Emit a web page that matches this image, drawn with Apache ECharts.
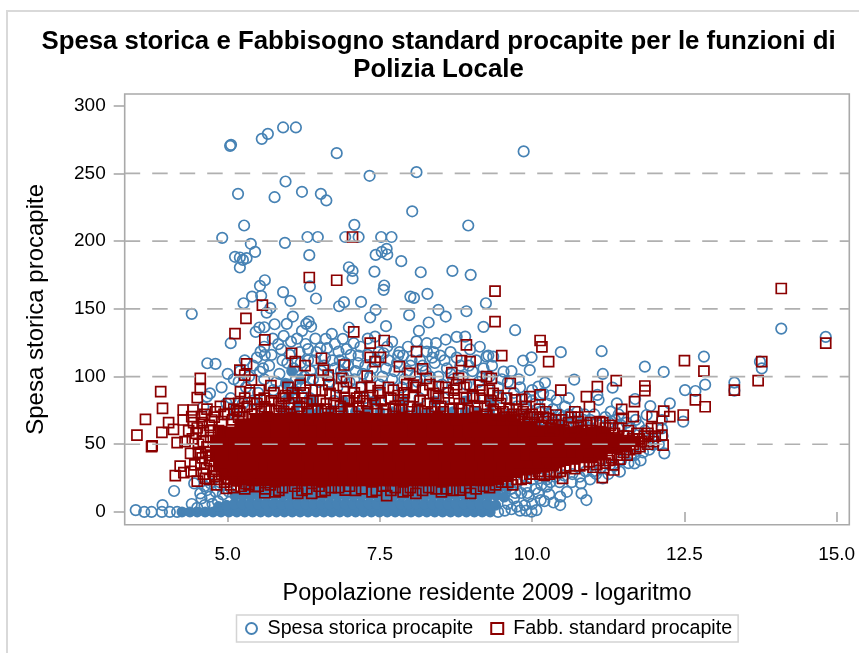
<!DOCTYPE html>
<html lang="it">
<head>
<meta charset="utf-8">
<title>Polizia Locale</title>
<script src="https://cdn.jsdelivr.net/npm/echarts@6/dist/echarts.min.js"></script>
<style>
html, body { margin: 0; padding: 0; background: #fff; }
#main, #griglia { width: 859px; height: 653px; position: absolute; left: 0; top: 0; }
#main { z-index: 1; }
#griglia { z-index: 10; pointer-events: none; }
</style>
</head>
<body>
<div id="main"></div>
<div id="griglia"></div>
<script>
const xTicks = [5, 7.5, 10, 12.5, 15];
const yTicks = [0, 50, 100, 150, 200, 250, 300];
const gridValues = [50, 100, 150, 200, 250];
const xMin = 3.309;
const xMax = 15.207;
const yMin = -9.4;
const yMax = 308.6;

// punti leggibili uno per uno: [logaritmo popolazione, spesa procapite]
const spesaIsolati = [[5.04,270.3],[5.055,271.1],[5.56,275.5],[5.66,279.2],[5.91,283.9],[6.12,283.9],[6.79,264.9],[7.33,248.2],[8.10,250.9],[9.86,266.2],[5.95,244],[5.17,234.9],[5.77,232.4],[6.22,236.4],[6.53,234.9],[6.62,230],[8.03,222],[8.95,211.5],[5.27,211.5],[7.08,212],[4.91,202.4],[6.31,203],[6.48,203],[6.93,203],[7.15,203],[7.52,203],[7.69,203],[5.38,198],[5.94,198.7],[5.45,192],[5.12,188.4],[5.20,187.9],[5.31,187.4],[5.25,186.1],[5.20,180.5],[6.34,189.6],[7.43,189.8],[7.53,192],[7.61,194.3],[7.62,190.1],[7.85,185.2],[6.99,180.7],[7.05,178],[7.05,172.4],[7.41,177.5],[8.17,177],[8.69,178],[8.99,175.1],[5.61,171.1],[5.53,167],[6.35,166.5],[7.57,167.2],[7.56,164],[5.91,162.3],[6.03,155.9],[5.40,159],[5.55,159.6],[5.26,154.1],[6.45,157.6],[8.0,159],[8.06,158.1],[8.28,161],[9.24,154.1],[6.83,151.9],[6.91,154.9],[7.19,155.1],[4.41,146.3],[5.70,150.5],[5.64,147.2],[7.43,149.2],[7.34,143.6],[7.98,145.3],[8.46,149.2],[8.58,144.3],[8.92,148.2],[6.07,144.3],[5.97,138.9],[5.77,138.6],[6.33,140.6],[6.29,138.9],[6.37,136.9],[6.22,133.7],[5.46,133],[5.52,136.2],[5.60,136.4],[6.99,136.2],[7.60,137.2],[8.14,133.7],[8.30,139.9],[9.20,136.7],[5.05,124.6],[5.83,123.9],[6.04,125.8],[6.71,131.5],[6.61,127.8],[6.89,127.8],[7.42,129.5],[8.27,124.6],[8.42,124.6],[8.58,127.3],[8.76,129.3],[8.90,129.5],[7.70,125.6],[5.54,118.4],[6.32,120.2],[6.52,120.9],[6.63,120.9],[6.82,118.4],[6.95,120.2],[7.07,124.6],[7.15,115.5],[7.56,117.2],[7.80,115.5],[7.88,115.5],[8.27,118.4],[8.49,115.5],[9.25,114.7],[4.665,109.8],[4.80,109.3],[9.72,134.2],[10.47,118],[11.14,118.7],[12.82,114.7],[14.09,135.4],[14.82,129.3],[9.28,115.5],[9.85,111.8],[9.99,114.2],[13.74,111],[11.85,107.3],[12.16,103.4],[12.51,90],[12.68,89.3],[12.84,94],[13.32,95.5],[13.32,89.6],[13.77,106],[11.16,101.9],[10.69,97.7],[11.32,91.8],[10.21,95.5],[10.1,92.5],[9.96,104.8],[9.53,103.6],[9.36,114.7],[9.2,106],[11.69,83.4],[11.94,78.2],[12.26,80.2],[11.39,80.2],[11.29,74.1],[11.07,86.4],[11.09,82.7],[10.40,82.7],[10.54,77.8],[10.18,87.6],[11.88,71.6],[12.13,67.9],[12.48,66.7],[12.13,61.7],[11.99,49.4],[12.17,43.3],[11.68,42],[11.68,35.9],[11.44,29.7],[11.16,24.8],[10.89,8.8],[10.81,13.7],[10.57,14.9],[10.46,11.3],[10.46,5.1],[10.14,8.8],[10.07,1.4],[9.99,0.2],[10.24,18.7],[10.8,21.1],[9.94,11.3],[9.75,3.9],[3.49,1.4],[3.63,0],[3.75,0],[3.92,0],[3.93,5.1],[4.05,0],[4.17,0],[4.12,15.5],[4.45,21.1],[4.55,13.7],[4.66,16.2],[4.41,5.9],[4.57,10],[4.71,11.3],[4.98,80.2],[5.18,96.2],[5.53,103.6],[5.61,115.9],[4.71,87.6],[4.60,77.7],[4.66,85.1]];

// nuvola sopra e a destra del nucleo, valori stimati
const spesaNuvola = [[5.3,92],[5.42,108],[5.5,88],[5.6,98],[5.68,108],[5.75,90],[5.85,102],[5.9,112],[6.0,94],[6.08,106],[6.12,98],[6.2,110],[6.28,92],[6.36,104],[6.42,112],[6.5,96],[6.58,108],[6.66,100],[6.72,112],[6.8,92],[6.86,104],[6.93,110],[7.0,96],[7.1,104],[7.18,92],[7.26,108],[7.34,100],[7.44,112],[7.5,94],[7.6,106],[7.7,98],[7.78,110],[7.86,92],[7.95,104],[8.02,112],[8.12,96],[8.2,108],[8.32,100],[8.4,110],[8.52,94],[8.6,106],[8.7,98],[8.82,108],[8.92,94],[9.02,104],[9.12,96],[9.3,100],[9.44,92],[9.6,96],[9.7,88],[9.8,92],[9.9,84],[10.0,90],[10.05,80],[5.05,84],[5.12,72],[5.25,80],[5.4,82],[5.55,78],[5.95,82],[6.35,84],[6.75,82],[7.25,84],[7.65,84],[8.15,84],[8.55,84],[9.05,84],[9.5,84],[9.75,78],[9.9,76],[10.12,74],[10.25,80],[10.34,76],[10.45,72],[10.6,72],[10.66,66],[10.74,74],[10.86,72],[10.95,68],[11.02,72],[11.2,70],[11.36,68],[11.42,72],[11.55,66],[11.62,62],[11.75,64],[11.85,60],[11.92,56],[12.0,54],[11.78,38],[11.58,36],[11.35,34],[11.25,28],[11.05,28],[10.95,24],[10.65,22],[10.45,22],[10.3,22],[10.15,20],[10.05,17],[9.9,19],[9.82,14],[9.7,10],[9.65,17],[9.88,5],[10.0,6],[9.6,6],[9.55,1],[9.44,0],[9.8,1],[10.28,13],[10.35,7],[4.5,3],[4.62,5],[4.75,6],[4.84,8],[4.92,13],[5.02,15],[4.8,15],[4.88,19],[4.62,19],[4.72,21]];

const spesaNuvolaAlta = [[5.35,100],[5.48,114],[5.58,106],[5.72,116],[5.8,96],[5.88,120],[5.98,110],[6.02,116],[6.14,104],[6.18,118],[6.26,100],[6.32,112],[6.4,98],[6.46,118],[6.54,104],[6.6,114],[6.68,96],[6.76,106],[6.84,112],[6.9,100],[6.98,108],[7.02,116],[7.08,98],[7.14,110],[7.22,102],[7.3,116],[7.38,106],[7.48,118],[7.54,100],[7.64,112],[7.74,104],[7.82,118],[7.9,98],[8.0,108],[8.08,100],[8.16,112],[8.25,104],[8.36,114],[8.46,100],[8.56,112],[8.66,102],[8.76,114],[8.86,100],[8.96,108],[9.08,112],[9.18,100],[9.34,108],[9.5,98],[9.66,104],[9.78,98],[5.2,104],[5.28,112],[5.1,98],[4.9,92],[5.0,102],[5.6,122],[5.74,128],[5.92,130],[6.14,128],[6.28,124],[6.44,128],[6.76,124],[7.18,122],[7.3,128],[7.62,122],[7.96,122],[8.1,126],[8.38,118],[8.66,118],[8.98,120],[9.14,122],
[9.82,68],[9.92,72],[10.02,66],[10.1,70],[10.2,68],[10.28,72],[10.36,66],[10.5,70],[10.56,64],[10.72,66],[10.84,68],[10.92,62],[11.1,64],[11.26,66],[11.46,64],[11.7,68],[10.0,82],[10.3,86],[10.6,84],[9.62,72],[9.74,22],[9.86,27],[10.0,24],[10.12,25],[10.24,24],[10.38,26],[10.52,27],[10.66,28],[10.78,26],[10.88,30],[11.0,30],[11.12,32],[11.28,35],[11.46,38],[11.62,42],[11.82,44],[11.92,46],[12.08,50],[12.14,56],[9.72,14],[9.92,14],[10.1,14],[10.2,8],[9.66,2],[9.9,1]];

// zona satura in basso: i singoli cerchi non si distinguono, stima di copertura
const spesaNucleo = [[4.25,0],[4.38,0],[4.5,0],[4.63,0],[4.76,0],[4.89,0],[5.02,0],[5.15,0],[5.28,0],[5.41,0],[5.54,0],[5.67,0],[5.8,0],[5.93,0],[6.06,0],[6.19,0],[6.32,0],[6.45,0],[6.58,0],[6.71,0],[6.84,0],[6.97,0],[7.1,0],[7.23,0],[7.36,0],[7.49,0],[7.62,0],[7.75,0],[7.88,0],[8.01,0],[8.14,0],[8.27,0],[8.4,0],[8.53,0],[8.66,0],[8.79,0],[8.92,0],[9.05,0],[9.18,0],[9.31,0],
[4.85,4],[4.98,5],[5.11,6],[5.24,6],[5.37,6],[5.5,6],[5.63,6],[5.76,6],[5.89,6],[6.02,6],[6.15,6],[6.28,6],[6.41,6],[6.54,6],[6.67,6],[6.8,6],[6.93,6],[7.06,6],[7.19,6],[7.32,6],[7.45,6],[7.58,6],[7.71,6],[7.84,6],[7.97,6],[8.1,6],[8.23,6],[8.36,6],[8.49,6],[8.62,6],[8.75,6],[8.88,6],[9.01,6],[9.14,6],[9.27,6],[9.4,5],
[5.12,12],[5.25,12],[5.38,12],[5.51,12],[5.64,12],[5.77,12],[5.9,12],[6.03,12],[6.16,12],[6.29,12],[6.42,12],[6.55,12],[6.68,12],[6.81,12],[6.94,12],[7.07,12],[7.2,12],[7.33,12],[7.46,12],[7.59,12],[7.72,12],[7.85,12],[7.98,12],[8.11,12],[8.24,12],[8.37,12],[8.5,12],[8.63,12],[8.76,12],[8.89,12],[9.02,12],[9.15,12],[9.28,12],[9.41,12],[9.54,11],
[5.3,18],[5.43,18],[5.56,18],[5.69,18],[5.82,18],[5.95,18],[6.08,18],[6.21,18],[6.34,18],[6.47,18],[6.6,18],[6.73,18],[6.86,18],[6.99,18],[7.12,18],[7.25,18],[7.38,18],[7.51,18],[7.64,18],[7.77,18],[7.9,18],[8.03,18],[8.16,18],[8.29,18],[8.42,18],[8.55,18],[8.68,18],[8.81,18],[8.94,18],[9.07,18],[9.2,18],[9.33,18],[9.46,18],[9.59,18],
[5.95,95],[6.05,104],[6.1,90],[6.2,98],[6.0,85],[6.15,80],[5.9,74],[6.1,74],[6.3,74],[6.5,74],[6.7,74],[6.9,74],[7.1,74],[7.3,74],[7.5,74],[7.7,74],[7.9,74],[8.1,74],[8.3,74],[8.5,74],[8.7,74],[8.9,74],[9.1,74],[9.3,74],[9.5,70],[9.7,66],[9.9,64],[10.1,62],[10.3,64],[10.5,62],[10.3,52],[10.6,56],[10.8,56],[11.0,54],[6.4,82],[6.9,82],[7.4,82],[7.9,82],[8.4,82],[8.9,82],[9.3,82]];

const fabbIsolati = [[7.05,203],[6.34,173.1],[6.79,171.1],[5.57,152.7],[5.30,143],[5.12,131.7],[5.61,127.1],[7.07,133],[7.34,124.6],[7.57,126.6],[8.10,118.4],[8.92,123.4],[6.05,117.2],[6.54,113.5],[9.39,163],[9.39,140.6],[10.13,126.6],[10.16,121.9],[9.50,115.5],[10.27,111],[12.5,111.8],[13.77,111],[14.09,165],[14.82,124.6],[12.82,104],[13.71,97],[13.32,90],[12.68,82.7],[12.84,77.7],[11.85,93],[11.85,89.6],[11.38,97],[11.07,92.5],[10.89,85.1],[10.47,90],[10.94,77.7],[10.70,74],[11.68,81.4],[11.47,75.8],[11.66,70.4],[11.97,70.4],[12.16,74.5],[12.26,70.4],[12.48,71.6],[11.96,61.7],[12.13,56.8],[11.99,51.9],[12.15,49.4],[11.77,48.2],[11.15,25.3],[10.5,24.8],[11.33,34.7],[10.13,86.4],[9.96,85.1],[9.83,83.2],[9.72,82.7],[9.64,95],[9.33,98.7],[9.36,87.6],[10.39,71.6],[10.27,69.1],[11.47,69.1],[11.11,66.7],[10.76,66.7],[9.72,67.9],[9.42,71.6],[9.88,69.1],[3.51,56.8],[3.65,68.4],[3.90,88.8],[3.93,76.5],[3.75,48.2],[3.76,48.9],[4.03,65.9],[3.92,58.8],[4.11,61],[4.17,51.2],[4.27,75.3],[4.43,75.3],[4.27,67.9],[4.41,70.4],[4.55,98.7],[4.55,90.5],[4.50,84.4],[4.57,70.4],[4.74,67.9],[4.90,66.7],[4.22,33.9],[4.14,26.8],[4.28,29],[4.46,34.7],[4.50,22.8],[4.63,24.8],[4.39,43.3],[4.55,43.3],[4.79,26],[4.98,17.4],[5.20,104.8],[5.31,109.3],[5.28,101.1],[5.39,97.4],[5.71,93.3],[5.21,88.8],[5.18,80.2],[5.20,74],[5.99,92],[6.11,111],[6.27,108],[6.57,104.8],[6.65,101.1],[6.91,108.5],[6.87,98.7],[6.95,96.2],[7.29,100.4],[7.34,114.2],[7.42,111],[7.51,114.2],[7.82,107.3],[7.47,89.6],[7.72,90],[7.99,102.4],[8.20,105.6],[8.26,98.7],[8.84,111.7],[8.98,111],[8.68,102.9],[8.79,98.7],[9.14,93.7],[8.05,93.7],[8.46,92.5],[6.19,93.7],[6.35,97.4],[5.91,83.9],[6.68,87.6],[7.17,85.1],[8.71,90],[9.03,85.1],[9.25,99.9],[8.38,87.6],[7.88,82.7],[5.53,82.7],[5.61,77.7],[5.61,14.2],[5.78,14.9],[6.15,13.7],[6.38,13.7],[6.54,14.9],[6.93,16.2],[7.37,14.9],[7.61,12],[7.88,14.9],[8.09,13.7],[8.51,14.9],[8.81,16.2],[8.99,13.7],[5.45,18.7]];

// bordo irregolare della massa rossa, valori stimati
const fabbBordo = [[4.62,72],[4.7,64],[4.78,70],[4.85,60],[4.72,55],[4.6,60],[4.5,62],[4.66,48],[4.6,52],[4.52,50],[4.58,40],[4.7,38],[4.65,32],[4.76,30],[4.85,24],[4.9,28],[4.95,22],[5.05,20],[5.15,23],[5.22,19],[5.3,21],[5.35,20],[5.5,19],[5.7,20],[5.9,18],[6.1,19],[6.3,17],[6.5,19],[6.7,18],[7.0,19],[7.2,17],[7.55,19],[7.75,18],[8.0,18],[8.3,18],[8.6,17],[8.9,18],[9.2,19],[9.4,20],[5.0,72],[5.08,68],[5.15,75],[5.25,70],[5.32,78],[5.4,72],[5.48,80],[5.55,74],[5.65,70],[5.72,82],[5.8,75],[5.88,78],[5.95,86],[6.02,72],[6.1,84],[6.18,78],[6.25,88],[6.32,74],[6.4,82],[6.48,76],[6.55,90],[6.62,80],[6.7,74],[6.78,86],[6.85,78],[6.92,84],[7.0,76],[7.08,88],[7.15,78],[7.22,82],[7.3,74],[7.38,86],[7.45,76],[7.52,82],[7.6,72],[7.68,84],[7.75,78],[7.82,75],[7.9,88],[7.98,78],[8.05,85],[8.12,76],[8.2,90],[8.28,80],[8.35,74],[8.42,86],[8.5,78],[8.58,92],[8.65,76],[8.72,84],[8.8,80],[8.88,92],[8.95,75],[9.02,86],[9.1,78],[9.18,90],[9.25,72],[9.32,82],[9.4,74],[9.48,80],[9.55,70],[9.62,76],[9.7,72],[9.78,68],[9.85,74],[9.92,66],[10,72],[10.08,70],[10.15,64],[10.22,74],[10.3,62],[10.38,68],[10.45,64],[10.52,60],[10.6,66],[10.68,62],[10.75,70],[10.82,60],[10.9,64],[10.98,60],[11.05,66],[11.12,58],[11.2,62],[11.28,64],[11.35,58],[11.42,62],[11.5,56],[11.58,60],[11.65,54],[11.72,58],[11.8,52],[9.6,22],[9.75,24],[9.9,25],[10,28],[10.1,30],[10.2,27],[10.3,30],[10.4,29],[10.55,33],[10.7,32],[10.85,35],[11,33],[11.1,38],[11.2,36],[11.3,40],[11.4,42],[11.5,44],[11.6,46],[11.7,47]];

const fabbBordoAlto = [[4.58,66],[4.66,76],[4.72,60],[4.8,74],[4.88,78],[4.94,72],[5.02,80],[5.1,76],[5.18,70],[5.28,84],[5.36,88],[5.44,76],[5.52,90],[5.6,84],[5.68,76],[5.76,88],[5.84,80],[5.92,74],[6.0,80],[6.06,88],[6.14,74],[6.22,84],[6.3,80],[6.38,76],[6.44,90],[6.52,82],[6.6,76],[6.66,94],[6.74,80],[6.82,74],[6.9,92],[6.98,82],[7.04,74],[7.12,84],[7.2,92],[7.28,80],[7.34,92],[7.42,80],[7.5,88],[7.56,76],[7.64,92],[7.72,76],[7.8,86],[7.86,76],[7.94,94],[8.02,74],[8.08,92],[8.16,82],[8.24,74],[8.32,94],[8.4,78],[8.46,84],[8.54,74],[8.62,88],[8.7,76],[8.76,94],[8.84,76],[8.92,84],[8.98,94],[9.06,74],[9.14,84],[9.22,78],[9.3,90],[9.36,76],[9.44,86],[9.52,74],[9.58,84],[9.66,70],[9.74,76],[9.82,72],[9.9,78],[9.96,70],[10.04,66],[10.12,76],[10.18,70],[10.34,64],[10.48,68],[10.64,70],[10.8,64],[10.96,66],[11.16,66],[11.32,62],[11.56,56],[11.76,54],[11.9,58],[12.06,62],[12.02,56],[11.84,56],[11.9,50],
[4.48,58],[4.44,66],[4.36,60],[4.3,52],[4.42,54],[4.52,44],[4.64,44],[4.72,42],[4.56,36],[4.4,30],[4.6,28],[4.7,24],[4.78,34],[4.82,20],[5.0,24],[5.1,18],[5.28,17],[5.62,17],[5.84,16],[6.22,16],[6.6,16],[6.82,18],[7.1,16],[7.44,16],[7.68,16],[7.96,16],[8.2,16],[8.42,17],[8.7,16],[9.08,17],[9.3,18],[9.5,22],[9.68,20],[9.82,24],[9.96,28],[10.14,28],[10.28,28],[10.46,30],[10.62,34],[10.78,34],[10.94,37],[11.06,35],[11.26,38],[11.34,31],[11.44,39],[11.56,42],[11.66,50]];

// zona satura rossa: quadrati pieni, stima di copertura
const fabbNucleo = [[5.1,24],[5.25,24],[5.4,23],[5.55,23],[5.7,23],[5.85,23],[6.0,23],[6.15,23],[6.3,23],[6.45,23],[6.6,23],[6.75,23],[6.9,23],[7.05,23],[7.2,23],[7.35,23],[7.5,23],[7.65,23],[7.8,23],[7.95,23],[8.1,23],[8.25,23],[8.4,23],[8.55,23],[8.7,23],[8.85,23],[9.0,23],[9.15,23],[9.3,23],[9.45,24],[9.6,26],
[4.95,28],[5.1,29],[5.25,29],[5.4,29],[5.55,29],[5.7,29],[5.85,29],[6.0,29],[6.15,29],[6.3,29],[6.45,29],[6.6,29],[6.75,29],[6.9,29],[7.05,29],[7.2,29],[7.35,29],[7.5,29],[7.65,29],[7.8,29],[7.95,29],[8.1,29],[8.25,29],[8.4,29],[8.55,29],[8.7,29],[8.85,29],[9.0,29],[9.15,29],[9.3,29],[9.45,29],[9.6,29],[9.75,29],[9.9,31],[10.05,32],[10.2,33],[10.35,34],
[4.85,34],[5.0,35],[5.15,35],[5.3,35],[5.45,35],[5.6,35],[5.75,35],[5.9,35],[6.05,35],[6.2,35],[6.35,35],[6.5,35],[6.65,35],[6.8,35],[6.95,35],[7.1,35],[7.25,35],[7.4,35],[7.55,35],[7.7,35],[7.85,35],[8.0,35],[8.15,35],[8.3,35],[8.45,35],[8.6,35],[8.75,35],[8.9,35],[9.05,35],[9.2,35],[9.35,35],[9.5,35],[9.65,35],[9.8,36],[9.95,37],[10.1,38],[10.25,38],[10.4,38],[10.55,38],[10.7,39],[10.85,40],[11.0,40],[11.15,42],
[4.8,41],[4.95,41],[5.1,41],[5.25,41],[5.4,41],[5.55,41],[5.7,41],[5.85,41],[6.0,41],[6.15,41],[6.3,41],[6.45,41],[6.6,41],[6.75,41],[6.9,41],[7.05,41],[7.2,41],[7.35,41],[7.5,41],[7.65,41],[7.8,41],[7.95,41],[8.1,41],[8.25,41],[8.4,41],[8.55,41],[8.7,41],[8.85,41],[9.0,41],[9.15,41],[9.3,41],[9.45,41],[9.6,41],[9.75,41],[9.9,42],[10.05,43],[10.2,44],[10.35,44],[10.5,44],[10.65,44],[10.8,45],[10.95,45],[11.1,45],[11.25,47],[11.4,47],[11.55,48],
[4.8,47],[4.95,47],[5.1,47],[5.25,47],[5.4,47],[5.55,47],[5.7,47],[5.85,47],[6.0,47],[6.15,47],[6.3,47],[6.45,47],[6.6,47],[6.75,47],[6.9,47],[7.05,47],[7.2,47],[7.35,47],[7.5,47],[7.65,47],[7.8,47],[7.95,47],[8.1,47],[8.25,47],[8.4,47],[8.55,47],[8.7,47],[8.85,47],[9.0,47],[9.15,47],[9.3,47],[9.45,47],[9.6,47],[9.75,47],[9.9,48],[10.05,49],[10.2,50],[10.35,50],[10.5,50],[10.65,50],[10.8,50],[10.95,51],[11.1,51],[11.25,52],[11.4,52],[11.55,52],[11.7,52],
[4.8,53],[4.95,53],[5.1,53],[5.25,53],[5.4,53],[5.55,53],[5.7,53],[5.85,53],[6.0,53],[6.15,53],[6.3,53],[6.45,53],[6.6,53],[6.75,53],[6.9,53],[7.05,53],[7.2,53],[7.35,53],[7.5,53],[7.65,53],[7.8,53],[7.95,53],[8.1,53],[8.25,53],[8.4,53],[8.55,53],[8.7,53],[8.85,53],[9.0,53],[9.15,53],[9.3,53],[9.45,53],[9.6,53],[9.75,53],[9.9,54],[10.05,55],[10.2,56],[10.35,56],[10.5,56],[10.65,56],[10.8,56],[10.95,55],[11.1,55],[11.25,55],[11.4,54],
[4.9,59],[5.05,59],[5.2,59],[5.35,59],[5.5,59],[5.65,59],[5.8,59],[5.95,59],[6.1,59],[6.25,59],[6.4,59],[6.55,59],[6.7,59],[6.85,59],[7.0,59],[7.15,59],[7.3,59],[7.45,59],[7.6,59],[7.75,59],[7.9,59],[8.05,59],[8.2,59],[8.35,59],[8.5,59],[8.65,59],[8.8,59],[8.95,59],[9.1,59],[9.25,59],[9.4,59],[9.55,59],[9.7,59],[9.85,59],[10.0,60],[10.15,60],[10.3,60],[10.45,60],[10.6,59],[10.75,59],[10.9,58],[11.05,58],[11.2,58],
[5.2,65],[5.35,65],[5.5,65],[5.65,65],[5.8,65],[5.95,65],[6.1,65],[6.25,65],[6.4,65],[6.55,65],[6.7,65],[6.85,65],[7.0,65],[7.15,65],[7.3,65],[7.45,65],[7.6,65],[7.75,65],[7.9,65],[8.05,65],[8.2,65],[8.35,65],[8.5,65],[8.65,65],[8.8,65],[8.95,65],[9.1,65],[9.25,65],[9.4,65],[9.55,64],[9.7,64],[9.85,63],[10.0,63],
[5.45,69],[5.6,69],[5.75,69],[5.9,69],[6.05,70],[6.2,69],[6.35,68],[6.5,69],[6.65,70],[6.8,69],[6.95,69],[7.1,69],[7.25,70],[7.4,69],[7.55,68],[7.7,69],[7.85,70],[8.0,69],[8.15,69],[8.3,69],[8.45,70],[8.6,69],[8.75,68],[8.9,69],[9.05,70],[9.2,69],[9.35,68],[9.5,68],[9.65,68]];

const blu = '#4682b4';
const rosso = '#8b0000';
const grigio = '#a9a9a9';
const grigioChiaro = '#d9d9d9';
const griglia = { left: 124.7, top: 94, width: 724.6, height: 430.7 };

const chart = echarts.init(document.getElementById('main'), null, { renderer: 'canvas' });

function puntiVuoti(name, symbol, size, color, z, data) {
	return {
		name: name, type: 'scatter', symbol: symbol, symbolSize: size, z: z, data: data,
		itemStyle: { color: 'rgba(255,255,255,0)', borderColor: color, borderWidth: 1.7, opacity: 1 },
		emphasis: { disabled: true }
	};
}
function puntiPieni(symbol, color, z, data) {
	return {
		name: 'nucleo', type: 'scatter', symbol: symbol, symbolSize: 11, z: z, data: data,
		itemStyle: { color: color, opacity: 1 },
		emphasis: { disabled: true }
	};
}

chart.setOption({
	animation: false,
	backgroundColor: '#fff',
	// cornice chiara dell'immagine, solo in alto e a sinistra
	graphic: [
		{ type: 'line', shape: { x1: 7, y1: 11, x2: 859, y2: 11 }, style: { stroke: grigioChiaro, lineWidth: 2 } },
		{ type: 'line', shape: { x1: 7, y1: 10, x2: 7, y2: 653 }, style: { stroke: grigioChiaro, lineWidth: 2 } }
	],
	title: {
		text: 'Spesa storica e Fabbisogno standard procapite per le funzioni di\nPolizia Locale',
		left: 433.5, top: 23, textAlign: 'center',
		textStyle: { fontFamily: 'Liberation Sans', fontSize: 25.8, fontWeight: 'bold', color: '#000', lineHeight: 28 }
	},
	legend: {
		data: ['Spesa storica procapite', 'Fabb. standard procapite'],
		left: 236.5, top: 615,
		itemWidth: 12, itemHeight: 11, itemGap: 17,
		padding: [3.5, 6, 3.5, 8.5],
		borderColor: '#d4d4d4', borderWidth: 1.5,
		textStyle: { fontFamily: 'Liberation Sans', fontSize: 19.7, color: '#000', padding: [0, 0, 0, 5] }
	},
	grid: Object.assign({ show: true, borderColor: grigio, borderWidth: 1.6, backgroundColor: '#fff' }, griglia),
	xAxis: {
		type: 'value', min: xMin, max: xMax,
		name: 'Popolazione residente 2009 - logaritmo', nameLocation: 'middle', nameGap: 57,
		nameTextStyle: { fontFamily: 'Liberation Sans', fontSize: 23.5, color: '#000' },
		axisLine: { show: false },
		axisTick: { show: true, length: 10, lineStyle: { color: grigio, width: 1.6 }, customValues: xTicks },
		axisLabel: { customValues: xTicks, formatter: v => v.toFixed(1), margin: 21, fontFamily: 'Liberation Sans', fontSize: 19, color: '#000' },
		splitLine: { show: false }
	},
	yAxis: {
		type: 'value', min: yMin, max: yMax,
		name: 'Spesa storica procapite', nameLocation: 'middle', nameGap: 76,
		nameTextStyle: { fontFamily: 'Liberation Sans', fontSize: 24, color: '#000' },
		axisLine: { show: false },
		axisTick: { show: true, length: 11, lineStyle: { color: grigio, width: 1.6 }, customValues: yTicks },
		axisLabel: { customValues: yTicks, margin: 19, fontFamily: 'Liberation Sans', fontSize: 19, color: '#000' },
		splitLine: { show: false }
	},
	series: [
		puntiPieni('circle', blu, 2, spesaNucleo),
		puntiVuoti('Spesa storica procapite', 'circle', 10.5, blu, 3, spesaIsolati.concat(spesaNuvola, spesaNuvolaAlta)),
		puntiPieni('rect', rosso, 4, fabbNucleo),
		puntiVuoti('Fabb. standard procapite', 'rect', 10, rosso, 5, fabbIsolati.concat(fabbBordo, fabbBordoAlto))
	]
});

// le linee della griglia stanno sopra i punti: secondo grafico trasparente con gli stessi assi
const chartGriglia = echarts.init(document.getElementById('griglia'), null, { renderer: 'canvas' });
chartGriglia.setOption({
	animation: false,
	grid: griglia,
	xAxis: { type: 'value', min: xMin, max: xMax, show: false },
	yAxis: { type: 'value', min: yMin, max: yMax, show: false },
	series: gridValues.map(v => ({
		type: 'line', symbol: 'none', silent: true,
		data: [[xMin, v], [xMax, v]],
		lineStyle: { color: '#b0b0b0', width: 1.7, type: [15.5, 12] }
	}))
});
</script>
</body>
</html>
